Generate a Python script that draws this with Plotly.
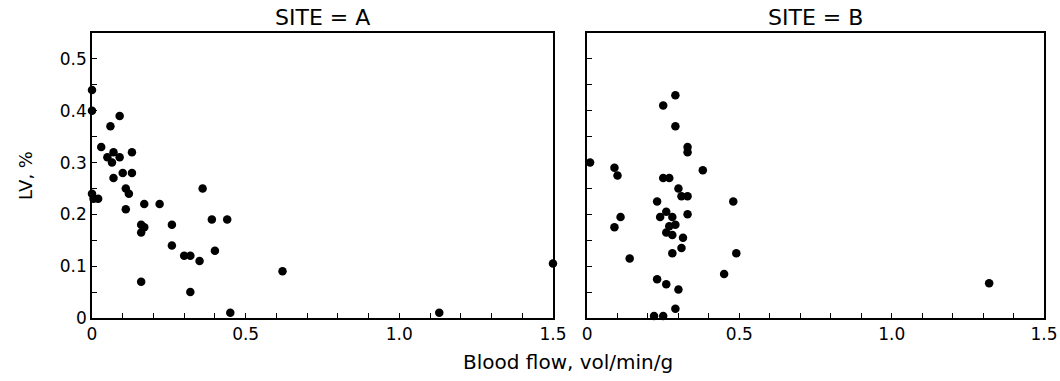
import plotly.graph_objects as go
from plotly.subplots import make_subplots

# Site A data (blood flow, LV %)
flow_a = [0.0, 0.0, 0.09, 0.06, 0.03, 0.13, 0.05, 0.07, 0.09, 0.065, 0.07, 0.10, 0.13,
          0.11, 0.12, 0.0, 0.005, 0.02, 0.36, 0.11, 0.17, 0.22, 0.39, 0.44, 0.16, 0.17,
          0.16, 0.26, 0.26, 0.40, 0.30, 0.32, 0.35, 0.16, 0.32, 0.45, 0.62, 1.13, 1.50]
lv_a = [0.44, 0.40, 0.39, 0.37, 0.33, 0.32, 0.31, 0.32, 0.31, 0.30, 0.27, 0.28, 0.28,
        0.25, 0.24, 0.24, 0.23, 0.23, 0.25, 0.21, 0.22, 0.22, 0.19, 0.19, 0.18, 0.175,
        0.165, 0.18, 0.14, 0.13, 0.12, 0.12, 0.11, 0.07, 0.05, 0.01, 0.09, 0.01, 0.105]

# Site B data
flow_b = [0.29, 0.25, 0.29, 0.33, 0.33, 0.01, 0.09, 0.10, 0.38, 0.25, 0.27, 0.30, 0.31,
          0.33, 0.23, 0.48, 0.26, 0.33, 0.24, 0.28, 0.11, 0.09, 0.29, 0.27, 0.26, 0.28,
          0.315, 0.31, 0.28, 0.49, 0.14, 0.45, 0.23, 0.26, 0.30, 0.29, 0.22, 0.25, 1.32]
lv_b = [0.43, 0.41, 0.37, 0.33, 0.32, 0.30, 0.29, 0.275, 0.285, 0.27, 0.27, 0.25, 0.235,
        0.235, 0.225, 0.225, 0.205, 0.20, 0.195, 0.195, 0.195, 0.175, 0.18, 0.177, 0.165,
        0.16, 0.155, 0.135, 0.125, 0.125, 0.115, 0.085, 0.075, 0.065, 0.055, 0.018, 0.004,
        0.004, 0.067]

panel_titles = ["SITE = A", "SITE = B"]
x_tickvals = [0, 0.5, 1.0, 1.5]
x_ticktext = ["0", "0.5", "1.0", "1.5"]
y_tickvals = [0, 0.1, 0.2, 0.3, 0.4, 0.5]
y_ticktext = ["0", "0.1", "0.2", "0.3", "0.4", "0.5"]

FONT = "DejaVu Sans, Arial, sans-serif"

fig = make_subplots(rows=1, cols=2, shared_yaxes=False)

marker = dict(color="black", size=8.5, symbol="circle", line=dict(width=0))
fig.add_trace(go.Scatter(x=flow_a, y=lv_a, mode="markers", marker=marker, showlegend=False,
                         cliponaxis=False), 1, 1)
fig.add_trace(go.Scatter(x=flow_b, y=lv_b, mode="markers", marker=marker, showlegend=False,
                         cliponaxis=False), 1, 2)

axis_common = dict(showline=True, linecolor="black", linewidth=1.6, mirror=True,
                   showgrid=False, zeroline=False, ticks="inside", ticklen=5,
                   tickwidth=1.2, tickcolor="black", automargin=False,
                   tickfont=dict(family=FONT, size=17, color="black"))

domains = [[0, 0.4842], [0.52, 1.0]]
for col in (1, 2):
    fig.update_xaxes(range=[0, 1.5], tickvals=x_tickvals, ticktext=x_ticktext,
                     domain=domains[col - 1],
                     minor=dict(dtick=0.1, tick0=0, ticks="inside", ticklen=5,
                                tickwidth=1.2, tickcolor="black"),
                     row=1, col=col, **axis_common)
    fig.update_yaxes(range=[0, 0.55], tickvals=y_tickvals,
                     ticktext=y_ticktext if col == 1 else [""] * len(y_tickvals),
                     minor=dict(dtick=0.05, tick0=0, ticks="inside", ticklen=5,
                                tickwidth=1.2, tickcolor="black"),
                     row=1, col=col, **axis_common)

fig.update_yaxes(title=dict(text="LV, %", font=dict(family=FONT, size=18, color="black"),
                            standoff=22), row=1, col=1)

# panel titles
for i, t in enumerate(panel_titles):
    xref = "x domain" if i == 0 else "x2 domain"
    fig.add_annotation(text=t, xref=xref, yref="paper", x=0.5, y=1.0, yanchor="bottom",
                       yshift=1, showarrow=False,
                       font=dict(family=FONT, size=22, color="black"))

fig.add_annotation(text="Blood flow, vol/min/g", xref="paper", yref="paper", x=0.5, y=0,
                   yshift=-30, yanchor="top", showarrow=False,
                   font=dict(family=FONT, size=20, color="black"))

fig.update_layout(width=1060, height=381, margin=dict(l=92, r=16, t=33, b=63, autoexpand=False),
                  plot_bgcolor="white", paper_bgcolor="white",
                  font=dict(family=FONT, color="black"))

fig.write_html("out.html")
